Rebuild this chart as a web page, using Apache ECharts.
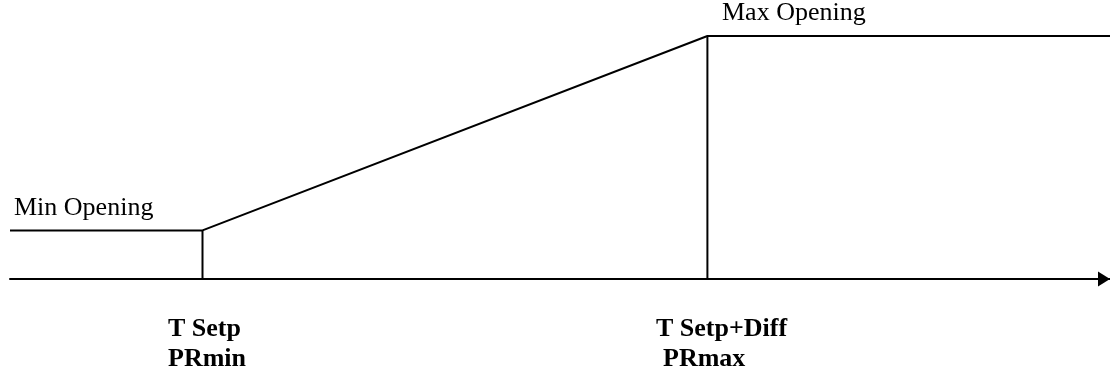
<!DOCTYPE html>
<html>
<head>
<meta charset="utf-8">
<script src="https://cdn.jsdelivr.net/npm/echarts@6/dist/echarts.min.js"></script>
<style>
html,body{margin:0;padding:0;background:#fff;}
#chart{width:1110px;height:370px;}
</style>
</head>
<body>
<div id="chart"></div>
<script>
// Schematic data (arbitrary units)
const lineX = [0, 17.5, 63.4, 100];
const lineY = [20, 20, 100, 100];
const breakX = [17.5, 63.4];
const breakY = [20, 100];
const levelLabels = ['Min Opening', 'Max Opening'];
const axisLabelsTop = ['T Setp', 'T Setp+Diff'];
const axisLabelsBottom = ['PRmin', 'PRmax'];

const chart = echarts.init(document.getElementById('chart'));
const serif = '"Liberation Serif", "Times New Roman", serif';

const mainData = lineX.map((x, i) => [x, lineY[i]]);
const verticalSeries = breakX.map((x, i) => ({
  type: 'line',
  data: [[x, 0], [x, breakY[i]]],
  symbol: 'none',
  silent: true,
  lineStyle: { color: '#000', width: 2 }
}));

chart.setOption({
  animation: false,
  backgroundColor: '#fff',
  grid: { left: 10, right: 0, top: 36, bottom: 91 },
  xAxis: {
    type: 'value', min: 0, max: 100,
    axisLine: { show: true, lineStyle: { color: '#000', width: 2 }, symbol: ['none', 'triangle'], symbolSize: [15, 12], symbolOffset: [0, -6] },
    axisTick: { show: false }, axisLabel: { show: false }, splitLine: { show: false }
  },
  yAxis: {
    type: 'value', min: 0, max: 100, show: false
  },
  series: [
    {
      type: 'line',
      data: mainData,
      symbol: 'none',
      clip: false,
      silent: true,
      lineStyle: { color: '#000', width: 2 }
    },
    ...verticalSeries
  ],
  graphic: [
    { type: 'text', left: 14, top: 195, style: { text: levelLabels[0], font: '26px ' + serif, fill: '#000' } },
    { type: 'text', left: 722, top: 0, style: { text: levelLabels[1], font: '26px ' + serif, fill: '#000' } },
    { type: 'text', left: 168, top: 316, style: { text: axisLabelsTop[0], font: 'bold 26px ' + serif, fill: '#000' } },
    { type: 'text', left: 168, top: 346, style: { text: axisLabelsBottom[0], font: 'bold 26px ' + serif, fill: '#000' } },
    { type: 'text', left: 656, top: 316, style: { text: axisLabelsTop[1], font: 'bold 26px ' + serif, fill: '#000' } },
    { type: 'text', left: 663, top: 346, style: { text: axisLabelsBottom[1], font: 'bold 26px ' + serif, fill: '#000' } }
  ]
});
</script>
</body>
</html>
